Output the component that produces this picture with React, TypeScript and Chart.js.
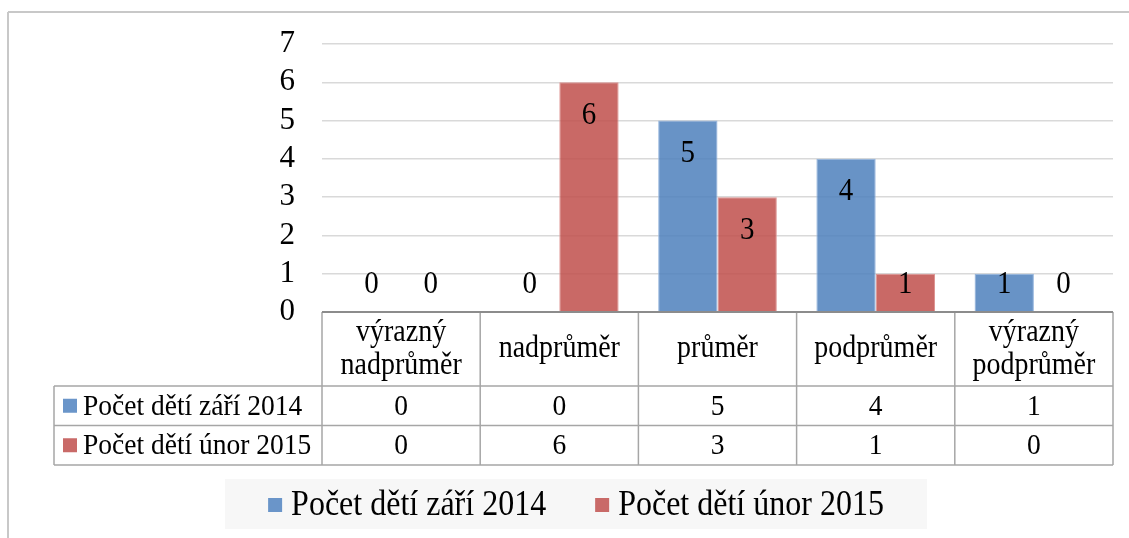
import { useEffect, useRef } from "react";
import { Chart, registerables } from "chart.js";

Chart.register(...registerables);

// ---- data ----
const categories: string[][] = [
  ["výrazný", "nadprůměr"],
  ["nadprůměr"],
  ["průměr"],
  ["podprůměr"],
  ["výrazný", "podprůměr"],
];
const seriesNames: string[] = ["Počet dětí září 2014", "Počet dětí únor 2015"];
const countSep2014: number[] = [0, 0, 5, 4, 1];
const countFeb2015: number[] = [0, 6, 3, 1, 0];
const yTickValues: number[] = [0, 1, 2, 3, 4, 5, 6, 7];

// ---- styles ----
const FONT = "'Liberation Serif', 'Times New Roman', serif";
const seriesFill = ["rgba(79,129,189,0.86)", "rgba(192,80,77,0.86)"];
const seriesEdge = ["rgba(150,182,222,1)", "rgba(222,150,148,1)"];
const swatch = ["#6a95c9", "#c96a68"];
const STRETCH = 1.1;

function tallText(ctx: CanvasRenderingContext2D, t: string, x: number, y: number) {
  ctx.save();
  ctx.translate(x, y);
  ctx.scale(1, STRETCH);
  ctx.fillText(t, 0, 0);
  ctx.restore();
}

const dataLabelPlugin = {
  id: "dataLabels",
  afterDatasetsDraw(chart: any) {
    const { ctx } = chart;
    ctx.save();
    ctx.font = `29px ${FONT}`;
    ctx.fillStyle = "#000";
    ctx.textAlign = "center";
    ctx.textBaseline = "middle";
    chart.data.datasets.forEach((ds: any, di: number) => {
      const meta = chart.getDatasetMeta(di);
      meta.data.forEach((el: any, i: number) => {
        const y = Math.min(el.y + 33, el.base - 27);
        tallText(ctx, String(ds.data[i]), el.x, y);
      });
    });
    ctx.restore();
  },
};

const tablePlugin = {
  id: "dataTable",
  afterDraw(chart: any) {
    const { ctx, chartArea: ca, scales } = chart;
    const xs = scales.x;
    const n = categories.length;
    const colW = (ca.right - ca.left) / n;
    const top = ca.bottom;
    const hdrB = top + 74;
    const r1B = hdrB + 39.5;
    const r2B = r1B + 39.5;
    const legL = 54;

    const line = (x1: number, y1: number, x2: number, y2: number) => {
      ctx.beginPath();
      ctx.moveTo(x1, y1);
      ctx.lineTo(x2, y2);
      ctx.stroke();
    };

    ctx.save();
    // outer frame
    ctx.strokeStyle = "#c8c8c8";
    ctx.lineWidth = 2;
    line(8, 12, chart.width, 12);
    line(8, 12, 8, chart.height);

    // table grid
    ctx.strokeStyle = "#a6a6a6";
    ctx.lineWidth = 1.5;
    [hdrB, r1B, r2B].forEach((y) => line(legL, y, ca.right, y));
    for (let i = 0; i <= n; i++) {
      const xx = xs.getPixelForValue(0) - colW / 2 + i * colW;
      line(xx, top, xx, r2B);
    }
    line(legL, hdrB, legL, r2B);

    // axis line
    ctx.strokeStyle = "#8c8c8c";
    ctx.lineWidth = 2;
    line(ca.left, top, ca.right, top);

    // header labels
    ctx.fillStyle = "#000";
    ctx.textAlign = "center";
    ctx.textBaseline = "middle";
    ctx.font = `28px ${FONT}`;
    const hc = (top + hdrB) / 2;
    categories.forEach((lines, i) => {
      const cx = xs.getPixelForValue(i);
      lines.forEach((t, j) => {
        tallText(ctx, t, cx, hc + (j - (lines.length - 1) / 2) * 33);
      });
    });

    // rows
    const rows = [
      { y: (hdrB + r1B) / 2, vals: chart.data.datasets[0].data },
      { y: (r1B + r2B) / 2, vals: chart.data.datasets[1].data },
    ];
    ctx.font = `27.5px ${FONT}`;
    rows.forEach((r, ri) => {
      ctx.textAlign = "center";
      r.vals.forEach((v: number, i: number) => {
        tallText(ctx, String(v), xs.getPixelForValue(i), r.y + 1);
      });
      ctx.fillStyle = swatch[ri];
      ctx.fillRect(63, r.y - 7, 14, 14);
      ctx.fillStyle = "#000";
      ctx.textAlign = "left";
      tallText(ctx, seriesNames[ri], 83, r.y + 1);
    });

    // bottom legend
    ctx.fillStyle = "#f7f7f7";
    ctx.fillRect(225, 479, 702, 50);
    ctx.font = `32px ${FONT}`;
    const w0 = ctx.measureText(seriesNames[0]).width;
    const w1 = ctx.measureText(seriesNames[1]).width;
    const total = 14 + 9 + w0 + 49 + 14 + 9 + w1;
    let lx = 225 + (702 - total) / 2;
    const ly = 505;
    [w0, w1].forEach((w, i) => {
      ctx.fillStyle = swatch[i];
      ctx.fillRect(lx, ly - 7, 14, 14);
      ctx.fillStyle = "#000";
      ctx.textAlign = "left";
      tallText(ctx, seriesNames[i], lx + 23, ly + 1);
      lx += 23 + w + 49;
    });
    ctx.restore();
  },
};

export default function App() {
  const ref = useRef<HTMLCanvasElement | null>(null);
  useEffect(() => {
    if (!ref.current) return;
    const chart = new Chart(ref.current, {
      type: "bar",
      data: {
        labels: categories,
        datasets: [
          {
            label: seriesNames[0],
            data: countSep2014,
            backgroundColor: seriesFill[0],
            borderColor: seriesEdge[0],
            borderWidth: 1,
            categoryPercentage: 0.75,
            barPercentage: 1,
          },
          {
            label: seriesNames[1],
            data: countFeb2015,
            backgroundColor: seriesFill[1],
            borderColor: seriesEdge[1],
            borderWidth: 1,
            categoryPercentage: 0.75,
            barPercentage: 1,
          },
        ],
      },
      options: {
        responsive: false,
        animation: false,
        layout: { padding: { left: 0, top: 44, right: 16, bottom: 226 } },
        plugins: {
          legend: { display: false },
          tooltip: { enabled: false },
        },
        scales: {
          x: { display: false },
          y: {
            min: yTickValues[0],
            max: yTickValues[yTickValues.length - 1],
            afterFit(scale: any) {
              scale.width = 322;
            },
            afterBuildTicks(scale: any) {
              scale.ticks = yTickValues.map((v) => ({ value: v }));
            },
            ticks: {
              autoSkip: false,
              padding: 27,
              color: "#000",
              font: { family: FONT, size: 31, lineHeight: 1 },
            },
            grid: { color: "#d9d9d9", lineWidth: 1.5, drawTicks: false },
            border: { display: false },
          },
        },
      },
      plugins: [dataLabelPlugin, tablePlugin],
    });
    return () => chart.destroy();
  }, []);
  return (
    <div style={{ position: "absolute", left: 0, top: 0, width: 1129, height: 538, background: "#fff" }}>
      <canvas ref={ref} width={1129} height={538} style={{ display: "block" }} />
    </div>
  );
}
